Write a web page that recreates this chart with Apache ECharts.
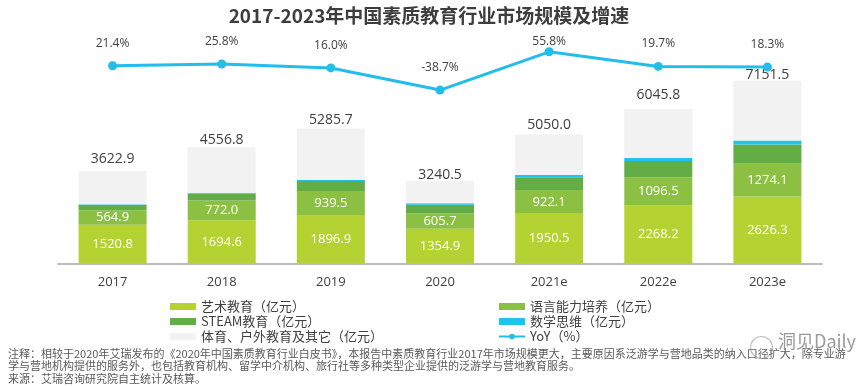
<!DOCTYPE html>
<html>
<head>
<meta charset="utf-8">
<script src="https://cdn.jsdelivr.net/npm/echarts@6/dist/echarts.min.js"></script>
<style>
html,body{margin:0;padding:0;background:#fff;}
#main{width:858px;height:386px;}
</style>
</head>
<body>
<div id="main"></div>
<script>
var categories = ['2017','2018','2019','2020','2021e','2022e','2023e'];
var artEdu = [1520.8, 1694.6, 1896.9, 1354.9, 1950.5, 2268.2, 2626.3];
var langEdu = [564.9, 772.0, 939.5, 605.7, 922.1, 1096.5, 1274.1];
var steamEdu = [215, 270, 390, 340, 500, 650, 760];
var mathEdu = [20, 30, 40, 60, 90, 110, 150];
var otherEdu = [1302, 1790, 2019, 880, 1587, 1921, 2341];
var totals = [3622.9, 4556.8, 5285.7, 3240.5, 5050.0, 6045.8, 7151.5];
var yoy = [21.4, 25.8, 16.0, -38.7, 55.8, 19.7, 18.3];

var seriesNames = ['艺术教育（亿元）','语言能力培养（亿元）','STEAM教育（亿元）','数学思维（亿元）','体育、户外教育及其它（亿元）','YoY（%）'];
var colors = ['#b4d232','#8bc043','#62ad46','#1ec3ee','#f2f2f2','#22bdea'];
var font = '"Open Sans", "Noto Sans CJK SC", sans-serif';
var cjk = '"Noto Sans CJK SC", sans-serif';

// label gaps above each stacked bar (styling only)
var totalGaps = [4.5, 0, 1.5, -1, 2.5, 6.5, -1];

var chart = echarts.init(document.getElementById('main'), null, {renderer:'canvas'});

function barSeries(i, data, label) {
  return {
    name: seriesNames[i], type: 'bar', stack: 'total', data: data,
    barWidth: 68, itemStyle: {color: colors[i]},
    label: label || {show: false}, emphasis: {disabled: true}
  };
}
var inLabel = {show: true, position: 'inside', color: '#ffffff', fontSize: 13, fontFamily: font,
  formatter: function(p){ return p.value.toFixed(1); }};

var otherData = otherEdu.map(function(v, i){
  return {value: v, label: {distance: totalGaps[i]}};
});
var yoyData = yoy.map(function(v, i){
  return {value: v, label: {distance: i === 4 ? 0 : 12}};
});

var legendText = {fontSize: 13, color: '#404040', fontFamily: cjk, lineHeight: 15};
var option = {
  animation: false,
  backgroundColor: '#ffffff',
  title: {
    text: '2017-2023年中国素质教育行业市场规模及增速',
    left: 'center', top: 1,
    textStyle: {fontSize: 19, fontWeight: 'bold', color: '#3d3d3d', fontFamily: cjk}
  },
  grid: {left: 58, right: 36, top: 33.5, bottom: 122.5},
  legend: [
    {data: [{name: seriesNames[0], icon: 'rect'}, {name: seriesNames[2], icon: 'rect'}, {name: seriesNames[4], icon: 'rect'}],
     orient: 'vertical', left: 170, top: 299,
     padding: 0, itemGap: 0, itemWidth: 26, itemHeight: 7, textStyle: legendText},
    {data: [{name: seriesNames[1], icon: 'rect'}, {name: seriesNames[3], icon: 'rect'}, {name: seriesNames[5]}],
     orient: 'vertical', left: 498, top: 299,
     padding: 0, itemGap: 0, itemWidth: 26, itemHeight: 7, textStyle: legendText}
  ],
  xAxis: {
    type: 'category', data: categories,
    axisLine: {lineStyle: {color: '#a6a6a6', width: 1.5}},
    axisTick: {show: false},
    axisLabel: {fontSize: 13, color: '#404040', fontFamily: font, margin: 12}
  },
  yAxis: [
    {type: 'value', min: 0, max: 9000, show: false, splitLine: {show: false}},
    {type: 'value', min: -467, max: 101, show: false, splitLine: {show: false}}
  ],
  series: [
    barSeries(0, artEdu, inLabel),
    barSeries(1, langEdu, inLabel),
    barSeries(2, steamEdu),
    barSeries(3, mathEdu),
    barSeries(4, otherData, {show: true, position: 'top', distance: 4, color: '#404040', fontSize: 14, fontFamily: font,
      formatter: function(p){ return totals[p.dataIndex].toFixed(1); }}),
    {
      name: seriesNames[5], type: 'line', yAxisIndex: 1, data: yoyData, z: 5,
      symbol: 'circle', symbolSize: 9, clip: false,
      lineStyle: {color: colors[5], width: 3}, itemStyle: {color: colors[5]},
      label: {show: true, position: 'top', color: '#404040', fontSize: 12, fontFamily: font,
        formatter: function(p){ return p.value.toFixed(1) + '%'; }},
      emphasis: {disabled: true}
    }
  ],
  graphic: [
    {type: 'text', left: 8, top: 348, style: {text: '注释：相较于2020年艾瑞发布的《2020年中国素质教育行业白皮书》，本报告中素质教育行业2017年市场规模更大，主要原因系泛游学与营地品类的纳入口径扩大，除专业游', font: '11px ' + cjk, fill: '#595959'}},
    {type: 'text', left: 8, top: 360.5, style: {text: '学与营地机构提供的服务外，也包括教育机构、留学中介机构、旅行社等多种类型企业提供的泛游学与营地教育服务。', font: '11px ' + cjk, fill: '#595959'}},
    {type: 'text', left: 8, top: 373, style: {text: '来源：艾瑞咨询研究院自主统计及核算。', font: '11px ' + cjk, fill: '#595959'}},
    {type: 'text', left: 778, top: 332, style: {text: '洞见Daily', font: '18px ' + cjk, fill: 'rgba(120,120,120,0.75)'}},
    {type: 'circle', left: 748, top: 334, shape: {r: 11}, style: {fill: 'none', stroke: 'rgba(150,150,150,0.6)', lineWidth: 1.2}}
  ]
};
chart.setOption(option);
</script>
</body>
</html>
